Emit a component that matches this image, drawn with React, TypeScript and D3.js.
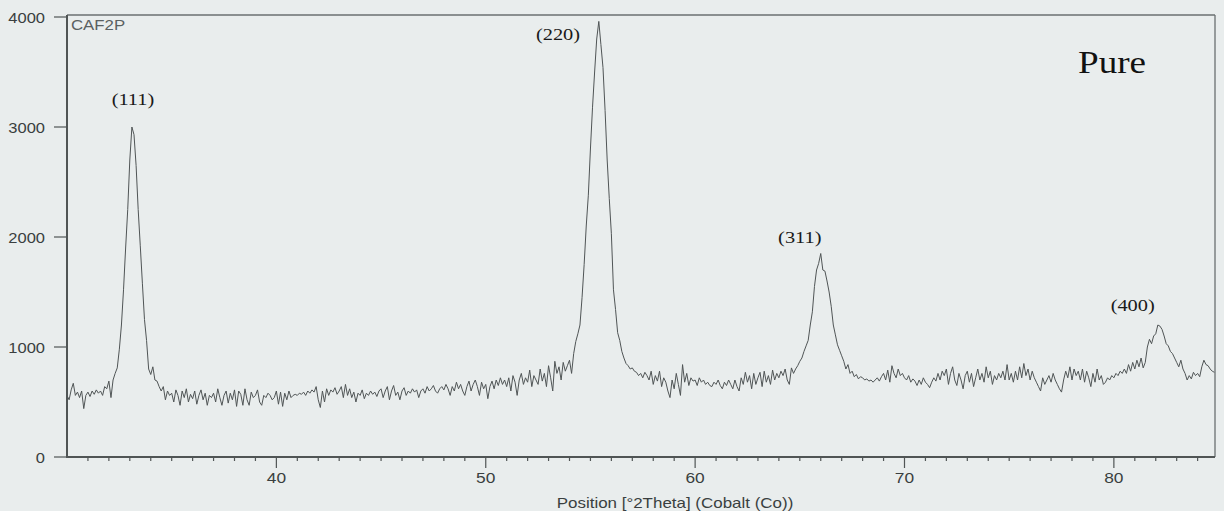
import React, { useEffect, useRef } from "react";
import * as d3 from "d3";

const angleStart = 30.0;
const angleStep = 0.1;

const counts30to35 = [
  560, 520, 610, 670, 560, 590, 540, 600, 440, 560,
  590, 550, 600, 570, 610, 580, 600, 560, 640, 620,
  690, 540, 700, 760, 810, 980, 1200, 1520, 1900, 2250,
  2700, 3000, 2930, 2650, 2250, 1920, 1580, 1250, 1060, 800,
  750, 820, 700, 690, 640, 600, 640, 520, 600, 560,
];
const counts35to40 = [
  580, 500, 610, 560, 470, 600, 540, 620, 500, 570,
  530, 600, 480, 560, 610, 520, 580, 470, 560, 540,
  580, 500, 620, 540, 470, 560, 600, 490, 580, 520,
  610, 460, 600, 570, 470, 620, 520, 470, 590, 540,
  560, 610, 500, 470, 560, 540, 580, 560, 520, 540,
];
const counts40to45 = [
  600, 480, 590, 460, 580, 520, 600, 540, 560, 570,
  560, 580, 570, 590, 560, 600, 580, 610, 590, 640,
  520, 450, 600, 500, 620, 560, 610, 590, 630, 570,
  600, 640, 540, 660, 560, 620, 540, 590, 500, 580,
  560, 610, 530, 580, 560, 600, 570, 590, 550, 600,
];
const counts45to50 = [
  620, 540, 600, 640, 520, 600, 650, 560, 590, 520,
  600, 630, 560, 600, 580, 620, 590, 610, 540, 600,
  620, 580, 640, 600, 620, 650, 600, 580, 620, 640,
  610, 660, 620, 560, 640, 600, 680, 620, 660, 600,
  560, 640, 690, 600, 660, 700, 640, 560, 680, 620,
];
const counts50to55 = [
  660, 530, 640, 690, 620, 700, 650, 720, 660, 700,
  640, 720, 600, 740, 680, 560, 700, 760, 660, 720,
  680, 790, 640, 740, 700, 660, 800, 690, 760, 640,
  830, 720, 600, 870, 760, 820, 700, 860, 780, 830,
  880, 760, 940, 1050, 1120, 1200, 1450, 1750, 2100, 2380,
];
const counts55to60 = [
  2800, 3180, 3500, 3800, 3960, 3750, 3540, 3150, 2700, 2350,
  2030, 1520, 1340, 1130, 1060, 960, 900, 850, 830, 800,
  810, 780, 770, 740, 760, 720, 770, 740, 700, 780,
  660, 740, 690, 780, 640, 720, 680, 600, 540, 700,
  620, 760, 660, 560, 840, 680, 760, 650, 720, 690,
];
const counts60to65 = [
  700, 650, 720, 680, 700, 660, 680, 650, 640, 680,
  660, 700, 650, 620, 680, 650, 700, 660, 620, 700,
  640, 600, 720, 660, 770, 680, 740, 620, 760, 660,
  720, 770, 640, 780, 680, 740, 660, 790, 700, 760,
  720, 780, 740, 800, 700, 660, 810, 760, 800, 830,
];
const counts65to70 = [
  870, 900, 960, 1010, 1060, 1200, 1320, 1550, 1700, 1760,
  1850, 1700, 1690, 1600, 1500, 1370, 1200, 1110, 1020, 970,
  920, 870, 800, 840, 760, 780, 730, 750, 710, 730,
  720, 700, 710, 690, 700, 680, 700, 720, 690, 730,
  760, 700, 790, 680, 830, 760, 720, 800, 740, 760,
];
const counts70to75 = [
  720, 700, 740, 680, 710, 690, 650, 700, 660, 720,
  680, 660, 630, 680, 720, 690, 760, 700, 780, 740,
  800, 660, 760, 820, 700, 650, 760, 700, 620, 740,
  780, 680, 760, 640, 720, 800, 700, 760, 680, 820,
  720, 780, 660, 740, 700, 760, 720, 780, 700, 840,
];
const counts75to80 = [
  700, 760, 680, 780, 700, 820, 720, 850, 740, 800,
  700, 780, 720, 680, 640, 600, 720, 660, 700, 740,
  680, 760, 700, 660, 620, 590, 700, 780, 720, 820,
  700, 800, 740, 780, 700, 800, 680, 780, 720, 640,
  760, 680, 800, 700, 740, 660, 680, 720, 700, 740,
];
const counts80to85 = [
  720, 760, 740, 780, 760, 800, 760, 840, 780, 860,
  800, 880, 820, 900, 810, 860, 1000, 1070, 1030, 1100,
  1120, 1200, 1190, 1160, 1100, 1030, 1010, 960, 940, 900,
  860, 820, 880, 800, 760, 700, 740, 710, 770, 740,
  760, 730, 820, 880, 840, 830, 800, 780, 770,
];

const yTicks = [0, 1000, 2000, 3000, 4000];
const xMajorTicks = [40, 50, 60, 70, 80];

const peakLabels = [
  { text: "(111)", angle: 33.15, counts: 3250 },
  { text: "(220)", angle: 53.45, counts: 3840 },
  { text: "(311)", angle: 65.0, counts: 2000 },
  { text: "(400)", angle: 80.9, counts: 1380 },
];

const W = 1224;
const H = 511;
const SANS = "Liberation Sans, Arial, sans-serif";
const SERIF = "Liberation Serif, Times New Roman, serif";

const App: React.FC = () => {
  const svgRef = useRef<SVGSVGElement | null>(null);

  useEffect(() => {
    if (!svgRef.current) return;
    const svg = d3.select(svgRef.current);
    svg.selectAll("*").remove();

    const counts = [
      ...counts30to35, ...counts35to40, ...counts40to45, ...counts45to50,
      ...counts50to55, ...counts55to60, ...counts60to65, ...counts65to70,
      ...counts70to75, ...counts75to80, ...counts80to85,
    ];
    const data = counts.map((c, i) => ({ angle: angleStart + i * angleStep, c }));

    const left = 67, right = 1215, top = 15, bottom = 457;
    const x = d3.scaleLinear().domain([30, 84.83]).range([left, right]);
    const y = d3.scaleLinear().domain([0, 4000]).range([bottom, 17]);

    // the scan is a bit wider than tall, so text is stretched sideways
    const label = (
      g: d3.Selection<any, unknown, null, undefined>,
      tx: number, ty: number, str: string, opts: { size: number; family: string; anchor: string; sx: number; fill: string }
    ) =>
      g.append("text")
        .attr("transform", `translate(${tx},${ty}) scale(${opts.sx},1)`)
        .attr("font-family", opts.family).attr("font-size", opts.size)
        .attr("text-anchor", opts.anchor).attr("fill", opts.fill).text(str);

    svg.append("rect").attr("width", W).attr("height", H).attr("fill", "#e9eded");

    const axisColor = "#505555";
    const textColor = "#3a3f40";

    // frame: top & right lighter, left & bottom heavier
    svg.append("line").attr("x1", left).attr("x2", right).attr("y1", top).attr("y2", top)
      .attr("stroke", "#6a6f70").attr("stroke-width", 1.3);
    svg.append("line").attr("x1", right).attr("x2", right).attr("y1", top).attr("y2", bottom)
      .attr("stroke", "#6a6f70").attr("stroke-width", 1.3);
    svg.append("line").attr("x1", left).attr("x2", left).attr("y1", top).attr("y2", bottom + 1)
      .attr("stroke", axisColor).attr("stroke-width", 2);
    svg.append("line").attr("x1", left - 1).attr("x2", right).attr("y1", bottom).attr("y2", bottom)
      .attr("stroke", axisColor).attr("stroke-width", 2);

    // y ticks
    const yAx = svg.append("g");
    yTicks.forEach((t) => {
      yAx.append("line").attr("x1", left - 13).attr("x2", left).attr("y1", y(t)).attr("y2", y(t))
        .attr("stroke", axisColor).attr("stroke-width", 1.2);
      label(yAx, 45, y(t) + 5.5, String(t), { size: 15, family: SANS, anchor: "end", sx: 1.1, fill: textColor });
    });

    // x ticks: minor every degree, major every 10
    const xAx = svg.append("g");
    d3.range(31, 85).forEach((t) => {
      const major = xMajorTicks.includes(t);
      xAx.append("line").attr("x1", x(t)).attr("x2", x(t)).attr("y1", bottom)
        .attr("y2", bottom + (major ? 11 : 4)).attr("stroke", axisColor).attr("stroke-width", 1.2);
    });
    xMajorTicks.forEach((t) => {
      label(xAx, x(t), 483, String(t), { size: 15.5, family: SANS, anchor: "middle", sx: 1.12, fill: textColor });
    });

    label(svg, 675, 508, "Position [°2Theta] (Cobalt (Co))",
      { size: 15, family: SANS, anchor: "middle", sx: 1.13, fill: textColor });

    label(svg, 71, 29.5, "CAF2P", { size: 15, family: SANS, anchor: "start", sx: 1.12, fill: "#5a6061" });

    // pattern
    const line = d3.line<{ angle: number; c: number }>()
      .x((d) => x(d.angle))
      .y((d) => y(d.c));
    svg.append("path").datum(data).attr("d", line).attr("fill", "none")
      .attr("stroke", "#505556").attr("stroke-width", 1).attr("stroke-linejoin", "round");

    // peak indices
    peakLabels.forEach((p) => {
      label(svg, x(p.angle), y(p.counts) + 5.5, p.text,
        { size: 17, family: SERIF, anchor: "middle", sx: 1.2, fill: "#1a1a1a" });
    });

    label(svg, 1112, 73, "Pure", { size: 32, family: SERIF, anchor: "middle", sx: 1.16, fill: "#111" });
  }, []);

  return (
    <svg
      ref={svgRef}
      width={W}
      height={H}
      style={{ position: "absolute", left: 0, top: 0, display: "block" }}
    ></svg>
  );
};

export default App;
